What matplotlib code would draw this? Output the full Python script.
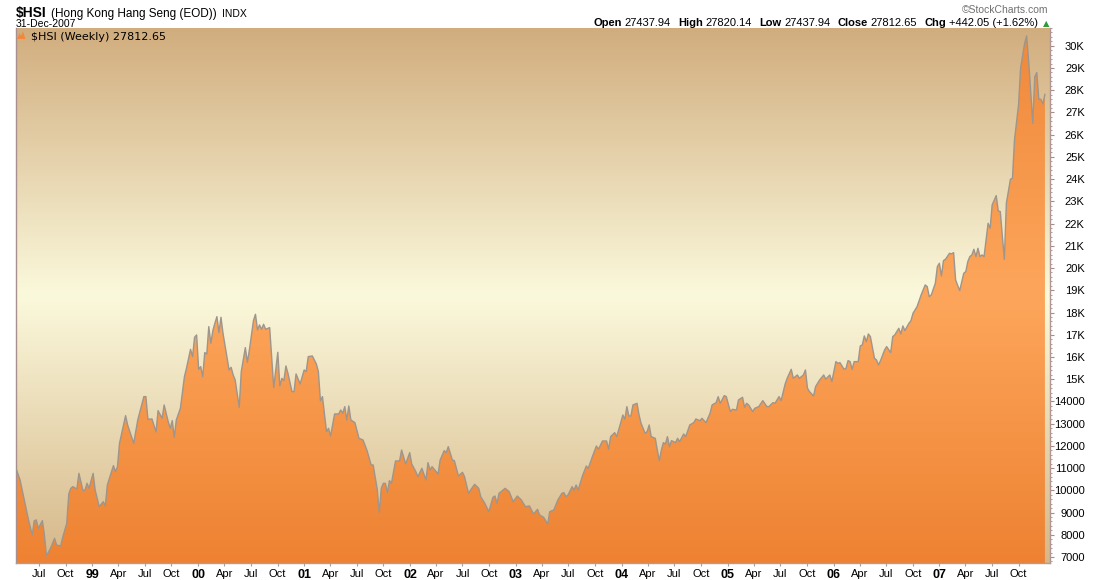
import numpy as np
import pandas as pd
import matplotlib
matplotlib.use('Agg')
import matplotlib.pyplot as plt
import matplotlib.dates as mdates
from matplotlib.colors import LinearSegmentedColormap
from matplotlib.patches import Polygon

# weekly closes, $HSI (week number counted from 13-Apr-1998)
start = pd.Timestamp('1998-04-13')
week_no = [
    0, 2, 4, 6, 8, 9, 10, 11, 13, 14,
    15, 17, 19, 20, 22, 23, 25, 26, 27, 28,
    30, 31, 33, 34, 35, 36, 38, 39, 41, 43,
    44, 45, 48, 49, 50, 51, 54, 55, 58, 60,
    63, 64, 65, 67, 69, 70, 72, 73, 75, 76,
    77, 78, 79, 81, 83, 84, 86, 87, 88, 89,
    90, 91, 92, 93, 94, 95, 96, 97, 98, 99,
    100, 101, 102, 105, 106, 107, 108, 110, 111, 113,
    114, 115, 117, 118, 119, 120, 121, 122, 123, 125,
    127, 129, 130, 131, 132, 133, 134, 136, 137, 138,
    140, 142, 143, 144, 146, 148, 149, 150, 151, 153,
    154, 155, 157, 159, 160, 161, 162, 163, 164, 165,
    167, 169, 171, 173, 175, 176, 178, 179, 180, 181,
    182, 183, 184, 185, 187, 189, 190, 192, 194, 195,
    197, 198, 200, 202, 203, 204, 205, 208, 209, 211,
    212, 213, 215, 216, 218, 220, 221, 223, 224, 226,
    228, 229, 231, 233, 235, 236, 237, 238, 241, 243,
    245, 247, 249, 251, 253, 255, 257, 258, 260, 262,
    263, 265, 267, 269, 270, 271, 272, 274, 275, 276,
    277, 279, 281, 282, 284, 286, 287, 289, 291, 292,
    293, 295, 296, 298, 299, 300, 301, 302, 303, 304,
    306, 307, 308, 310, 311, 312, 313, 315, 316, 317,
    318, 319, 320, 321, 322, 323, 325, 326, 327, 329,
    330, 332, 334, 335, 337, 338, 340, 342, 343, 345,
    346, 347, 349, 350, 352, 353, 355, 356, 358, 359,
    360, 361, 363, 364, 366, 368, 370, 371, 373, 374,
    376, 377, 379, 380, 382, 383, 385, 386, 388, 389,
    390, 391, 393, 394, 396, 398, 399, 401, 402, 404,
    405, 406, 408, 409, 410, 411, 412, 413, 415, 416,
    417, 418, 419, 420, 421, 423, 424, 425, 426, 428,
    429, 431, 432, 433, 435, 436, 437, 438, 440, 441,
    442, 444, 446, 448, 449, 450, 451, 453, 454, 455,
    456, 457, 458, 460, 461, 462, 463, 465, 467, 468,
    469, 470, 471, 472, 473, 474, 475, 476, 477, 479,
    480, 481, 483, 484, 485, 487, 488, 490, 491, 492,
    494, 495, 497, 498, 499, 500, 501, 502, 503, 504,
    505, 506, 507,
]
close = [
    10990, 10465, 9595, 8740, 7990, 8635, 8665, 8290, 8635, 7990,
    7045, 7390, 7840, 7540, 7495, 7885, 8515, 9835, 10090, 10165,
    10060, 10765, 9985, 10015, 10315, 10090, 10765, 10015, 9265, 9490,
    9295, 10240, 11110, 10840, 11065, 12115, 13360, 12940, 12115, 13165,
    14215, 14215, 13195, 13210, 12625, 13585, 13240, 13840, 13090, 12790,
    13135, 12385, 13165, 13690, 15115, 15490, 16345, 16015, 16885, 16990,
    15445, 15565, 15115, 16195, 16135, 17365, 16615, 17185, 17515, 17815,
    17095, 17785, 17065, 15415, 15535, 15190, 14965, 13735, 15340, 16420,
    15760, 16315, 17635, 17920, 17215, 17440, 17245, 17470, 17245, 17320,
    14620, 16210, 14695, 15040, 14935, 15595, 15265, 14440, 14440, 15235,
    14785, 15415, 15340, 16015, 16045, 15685, 15340, 14035, 14215, 12640,
    12790, 12445, 13435, 13435, 13615, 13465, 13765, 13165, 13795, 13165,
    13045, 12340, 12265, 11785, 11140, 11140, 10045, 8995, 10090, 10315,
    10315, 9895, 10435, 10315, 11320, 11320, 11815, 11185, 11695, 11185,
    10840, 10615, 10990, 10465, 11245, 10915, 11065, 10735, 11365, 11785,
    11695, 11965, 11365, 11335, 10645, 10810, 10615, 9865, 10015, 10270,
    10090, 9715, 9415, 9040, 9685, 9745, 9415, 9865, 10090, 9940,
    9490, 9745, 9565, 9265, 9295, 8935, 9145, 8890, 8785, 8485,
    9040, 9115, 9565, 9865, 9895, 9715, 9790, 10165, 10015, 10240,
    10015, 10615, 11095, 10990, 11515, 11995, 11845, 12220, 12220, 11845,
    12415, 12595, 12415, 13050, 13390, 13195, 13765, 13345, 13345, 13840,
    13915, 13390, 13015, 12565, 12640, 12940, 12415, 12340, 11815, 11335,
    11815, 12145, 12085, 12415, 11965, 12235, 12145, 12340, 12190, 12535,
    12415, 12940, 13045, 13210, 13135, 13240, 13045, 13465, 13840, 13945,
    14215, 13915, 14260, 14215, 13540, 13645, 13615, 14065, 14185, 13735,
    13915, 13840, 13540, 13690, 13765, 14035, 13765, 13765, 13945, 13915,
    14215, 14035, 14785, 15040, 15445, 15040, 15190, 15040, 15190, 15415,
    14590, 14440, 14245, 14665, 14965, 15190, 15000, 15190, 14890, 15790,
    15715, 15745, 15445, 15490, 15835, 15790, 15445, 15790, 15790, 16495,
    16540, 16945, 16690, 17035, 16915, 15940, 15865, 15640, 15835, 16315,
    16465, 16195, 16915, 16990, 17290, 17035, 17395, 17185, 17515, 17635,
    17965, 18265, 18790, 19240, 19165, 18715, 18790, 19315, 20065, 20215,
    19645, 20335, 20395, 20665, 20635, 20695, 19465, 18985, 19765, 19840,
    20290, 20515, 20590, 20845, 20515, 20890, 20515, 20590, 20515, 22015,
    21790, 22840, 23260, 22570, 22540, 20395, 22915, 23995, 24040, 25765,
    27340, 28990, 30115, 30445, 29290, 27940, 26515, 28615, 28795, 27595,
    27595, 27385, 27812.65,
]

ytick_vals = list(range(7000, 31000, 1000))
ytick_labels = [f'{v // 1000}K' if v >= 15000 else str(v) for v in ytick_vals]
quarters = pd.date_range('1998-07-01', '2007-10-01', freq='QS')
xtick_labels = [f'{d.year % 100:02d}' if d.month == 1 else d.strftime('%b')
                for d in quarters]

W, H = 1100, 580
fig = plt.figure(figsize=(W / 100, H / 100), dpi=100)
ax = fig.add_axes([16 / W, 1 - 563 / H, (1050 - 16) / W, (563 - 28) / H])

x = mdates.date2num(start + pd.to_timedelta(np.array(week_no) * 7, unit='D'))
y = np.array(close, dtype=float)
ymin, ymax = 6730, 30800

# background + orange fill gradients
grad = np.linspace(0, 1, 256)[:, None]
bg_cmap = LinearSegmentedColormap.from_list(
    'bg', [(0, '#d6b789'), (0.5, '#fbf9dc'), (1, '#d1ad7e')])
or_cmap = LinearSegmentedColormap.from_list(
    'org', [(0, '#ee8232'), (0.5, '#fda65b'), (1, '#ef883a')])
ax.imshow(grad, cmap=bg_cmap, extent=[0, 1, 0, 1], transform=ax.transAxes,
          aspect='auto', origin='lower', zorder=0)
poly = ax.fill_between(x, y, ymin, lw=0)
poly.set_visible(False)
im = ax.imshow(grad, cmap=or_cmap, extent=[0, 1, 0, 1], transform=ax.transAxes,
               aspect='auto', origin='lower', zorder=1)
im.set_clip_path(poly.get_paths()[0], ax.transData)
ax.plot(x, y, color='#9e958c', lw=1.0, zorder=3)

ax.set_xlim(x[0], x[-1] + 2.5 * 7)
ax.set_ylim(ymin, ymax)

# axes
ax.yaxis.tick_right()
ax.set_yticks(ytick_vals, ytick_labels)
ax.set_yticks(np.arange(6800, 30801, 200), minor=True)
ax.tick_params(axis='y', which='major', length=3, width=0.8, color='#a88a8a',
               labelsize=8, pad=22)
ax.tick_params(axis='y', which='minor', length=1.5, width=0.6, color='#a88a8a')
plt.setp(ax.get_yticklabels(), ha='right', family='Liberation Sans')

ax.set_xticks(mdates.date2num(quarters), xtick_labels)
ax.tick_params(axis='x', length=2, width=0.8, color='#a0a0a0', labelsize=8, pad=2)
for lab, d in zip(ax.get_xticklabels(), quarters):
    lab.set_family('Liberation Sans')
    if d.month == 1:
        lab.set_fontweight('bold')
        lab.set_fontsize(9)

ax.spines['top'].set_visible(False)
ax.spines['left'].set_color('#a89090')
ax.spines['right'].set_color('#b09595')
ax.spines['bottom'].set_color('#a8a0a0')
for s in ax.spines.values():
    s.set_linewidth(1)

# header text
rend = fig.canvas.get_renderer()


def put_row(pieces, x0, ybase, align='left'):
    arts = []
    for s, kw, gap in pieces:
        t = fig.text(0, 1 - ybase / H, s, va='baseline', family='Liberation Sans', **kw)
        arts.append((t, t.get_window_extent(rend).width, gap))
    total = sum(w + g for _, w, g in arts) - arts[-1][2]
    cur = x0 if align == 'left' else x0 - total
    for t, w, g in arts:
        t.set_x(cur / W)
        cur += w + g


put_row([(r'\$HSI', dict(weight='bold', size=10), 4),
         ('(Hong Kong Hang Seng (EOD))', dict(size=8.5), 6),
         ('INDX', dict(size=7.5), 0)], 16, 17)
fig.text(16 / W, 1 - 27 / H, '31-Dec-2007', size=7.5, va='baseline',
         family='Liberation Sans')

fig.text(1048 / W, 1 - 13 / H, '\u00a9StockCharts.com', size=7.5, color='#707070',
         ha='right', va='baseline', family='Liberation Sans')
b, n = dict(weight='bold', size=8), dict(size=8)
put_row([('Open', b, 3), ('27437.94', n, 7),
         ('High', b, 3), ('27820.14', n, 7),
         ('Low', b, 3), ('27437.94', n, 7),
         ('Close', b, 3), ('27812.65', n, 7),
         ('Chg', b, 3), ('+442.05 (+1.62%)', n, 0)], 1038, 26, align='right')
fig.text(1046 / W, 1 - 26 / H, '\u25b2', size=6, color='#2e9a3a', ha='center',
         va='baseline')

# legend entry inside the chart
icon = [(17, 39), (19.5, 33), (21, 36), (23, 31.5), (25.5, 39)]
fig.patches.append(Polygon([(px / W, 1 - py / H) for px, py in icon], closed=True,
                           transform=fig.transFigure, facecolor='#f08a3a',
                           edgecolor='none', zorder=5))
fig.text(31 / W, 1 - 40 / H, r'\$HSI (Weekly) 27812.65', size=8, va='baseline',
         family='DejaVu Sans', zorder=5)

fig.savefig('out.png', dpi=100, facecolor='white')
